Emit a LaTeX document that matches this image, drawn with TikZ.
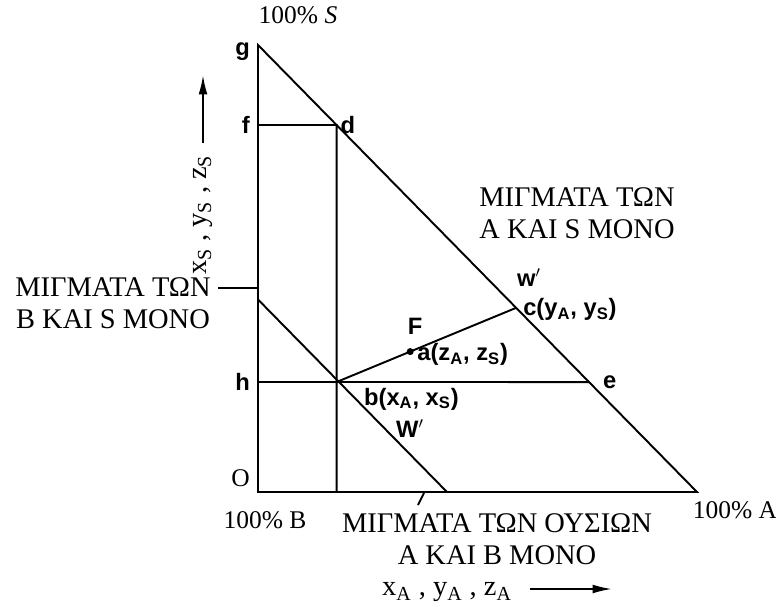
\documentclass[tikz,border=0pt]{standalone}
\usepackage{fontspec}
\setmainfont{Liberation Serif}
\setsansfont{Liberation Sans}
\usepackage{tikz}
\usetikzlibrary{arrows.meta, positioning, calc}

\begin{document}
\begin{tikzpicture}[x=0.02cm, y=0.02cm,
    side/.style={line width=1.1pt},
    grk/.style={font=\fontsize{16.2}{18.2}\selectfont, align=center, inner sep=1pt},
    hand/.style={font=\sffamily\bfseries\fontsize{13.5}{15}\selectfont, inner sep=1pt},
    corner/.style={font=\fontsize{14.5}{16}\selectfont, inner sep=1pt}
]
    \useasboundingbox (0,0) rectangle (776,606);

    % triangle corners
    \coordinate (O) at (258,114);
    \coordinate (g) at (258,561);
    \coordinate (Acorner) at (697,114);
    \coordinate (d) at ($(g)!0.179!(Acorner)$);
    \coordinate (e) at ($(g)!0.754!(Acorner)$);
    \coordinate (c) at ($(g)!0.588!(Acorner)$);
    \coordinate (f) at (258,481);
    \coordinate (h) at (258,224);
    \coordinate (b) at (h -| d);
    \coordinate (dfoot) at (O -| d);
    \coordinate (a) at ($(b)!0.41!(c)$);
    \coordinate (wleft) at (258,306.5);
    \coordinate (wbot) at (447,114);

    \draw[side] (g) -- (O) -- (Acorner) -- cycle;
    \draw[side] (f) -- (d) -- (dfoot);
    \draw[side] (h) -- (e);
    \draw[side] (wleft) -- (wbot);
    \draw[side] (b) -- (c);
    \fill (a) circle (3.5);

    % letters on the triangle
    \node[hand, left=6 of g, yshift=-4] (glab) {g};
    \node[hand, left=6 of f] (flab) {f};
    \node[hand, left=6 of h] (hlab) {h};
    \node[hand, right=2 of d] (dlab) {d};
    \node[corner, left=6 of O, yshift=8] (olab) {O};
    \node[hand, right=12 of e] (elab) {e};
    \node[hand, anchor=west] (clab) at ($(c)+(5,-2)$) {c(y\textsubscript{A}, y\textsubscript{S})};
    \node[hand] (wup) at (529,328) {w$'$};
    \node[hand, anchor=west] (alab) at ($(a)+(5,-3)$) {a(z\textsubscript{A}, z\textsubscript{S})};
    \node[hand] (Flab) at (415,280) {F};
    \node[hand, anchor=west] (blab) at (362,207) {b(x\textsubscript{A}, x\textsubscript{S})};
    \node[hand] (wlow) at (410,177) {W$'$};

    % corner labels
    \node[corner] (top) at (298,591) {100\% \textit{S}};
    \node[corner] (pB) at (265,86) {100\% B};
    \node[corner] (pA) at (735,96) {100\% A};

    % regions
    \node[grk] (regAS) at (577,393) {ΜΙΓΜΑΤΑ ΤΩΝ\\Α ΚΑΙ S ΜΟΝΟ};
    \node[grk] (regBS) at (113,302.5) {ΜΙΓΜΑΤΑ ΤΩΝ\\Β ΚΑΙ S ΜΟΝΟ};
    \node[grk] (regAB) at (497,67) {ΜΙΓΜΑΤΑ ΤΩΝ ΟΥΣΙΩΝ\\Α ΚΑΙ Β ΜΟΝΟ};
    \coordinate (bspoint) at (258,318);
    \draw[side] (bspoint) -- ++(-40,0);
    \coordinate (abpoint) at (424,113);
    \draw[side] (abpoint) -- ++(-6,-12);

    % axes
    \node[grk] (xax) at (447,14) {x\textsubscript{A} , y\textsubscript{A} , z\textsubscript{A}};
    \draw[side, -{Latex[length=11pt, width=5pt]}] (530,17) -- (612,17);
    \node[grk, rotate=90] (yax) at (203,391) {x\textsubscript{S} , y\textsubscript{S} , z\textsubscript{S}};
    \draw[side, -{Latex[length=11pt, width=5pt]}] (203,463) -- (203,531);
\end{tikzpicture}
\end{document}
